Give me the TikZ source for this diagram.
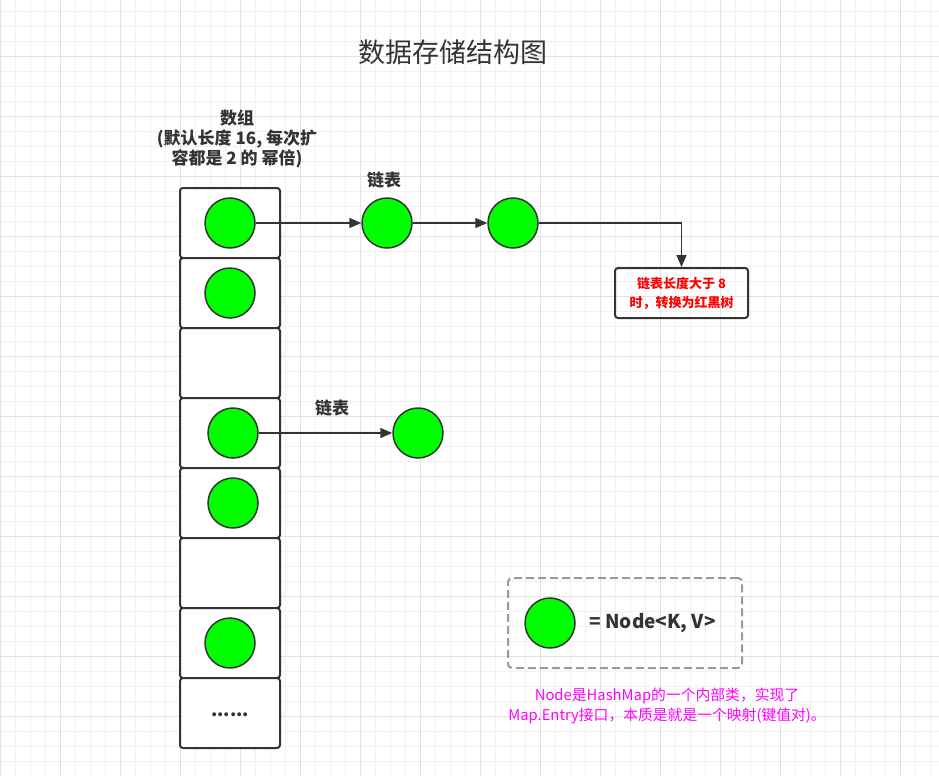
\documentclass[tikz,border=0pt]{standalone}
\usepackage{fontspec}
\setmainfont{Noto Sans CJK SC}
\usetikzlibrary{arrows.meta}
\definecolor{ink}{HTML}{333333}
\definecolor{nodegreen}{HTML}{00FF00}
\definecolor{gridlo}{HTML}{F1F1F1}
\definecolor{gridhi}{HTML}{E2E2E2}
\definecolor{dashgray}{HTML}{9A9A9A}
\definecolor{notepink}{HTML}{FF00FF}
\tikzset{
  cell/.style={rectangle,rounded corners=3pt,draw=ink,fill=white,line width=2pt,minimum width=100pt,minimum height=70pt,inner sep=0pt},
  nd/.style={circle,draw=ink,fill=nodegreen,minimum size=50pt,inner sep=0pt,line width=1.5pt},
  lnk/.style={-{Triangle[length=12pt,width=10pt]},draw=ink,line width=1.5pt},
  lb/.style={font=\fontsize{17}{20}\selectfont\bfseries,text=ink,align=center},
  warn/.style={rectangle,rounded corners=3pt,draw=ink,line width=2pt,minimum width=133pt,minimum height=50pt,inner sep=0pt,align=center,text=red,font=\fontsize{13}{19}\selectfont\bfseries},
  keybox/.style={rectangle,rounded corners=4pt,draw=dashgray,line width=2pt,dash pattern=on 8pt off 4pt,minimum width=234pt,minimum height=90pt,inner sep=0pt},
  gmin/.style={draw=gridlo,line width=1pt},
  gmaj/.style={draw=gridhi,line width=1pt},
}
\begin{document}
\begin{tikzpicture}[x=1pt,y=-1pt]
\useasboundingbox (0,0) rectangle (939,776);
\fill[white] (0,0) rectangle (939,776);
% background grid
\foreach \x in {0,15,...,930} \draw[gmin] (\x,0) -- (\x,776);
\foreach \y in {11.5,26.5,...,776} \draw[gmin] (0,\y) -- (939,\y);
\foreach \x in {0,60,...,930} \draw[gmaj] (\x,0) -- (\x,776);
\foreach \y in {56.5,116.5,...,776} \draw[gmaj] (0,\y) -- (939,\y);

\node[font=\fontsize{27}{30}\selectfont,text=ink] (title) at (453,52) {数据存储结构图};

% the array
\node[lb] (arrlb) at (237,139) {数组\\(默认长度 16, 每次扩\\容都是 2 的 幂倍)};
\foreach \i in {1,...,8}
  \node[cell] (cell\i) at (230,{223+70*(\i-1)}) {};
\node[nd] (a1) at (230,223) {};
\node[nd] (a2) at (230,293) {};
\node[nd] (a4) at (233,433) {};
\node[nd] (a5) at (233,503) {};
\node[nd] (a7) at (230,643) {};
\node[lb,font=\fontsize{18}{20}\selectfont\bfseries] (more) at (230,715) {......};

% first bucket list
\node[lb] (listlb) at (384,180) {链表};
\node[nd] (l1) at (387,223) {};
\node[nd] (l2) at (513,223) {};
\node[warn] (tree) at (681.5,293) {链表长度大于 8\\时，转换为红黑树};
\draw[lnk] (a1) -- (l1);
\draw[lnk] (l1) -- (l2);
\draw[lnk] (l2) -| (tree);

% second bucket list
\node[lb] (listlb2) at (332,408) {链表};
\node[nd] (m1) at (418,433) {};
\draw[lnk] (a4) -- (m1);

% legend
\node[keybox] (key) at (625,623) {};
\node[nd] (keynd) at (550,623) {};
\node[lb,anchor=west,font=\fontsize{19}{20}\selectfont\bfseries] (keytx) at (586,623) {= Node<K, V>};
\node[text=notepink,align=center,font=\fontsize{14.8}{20}\selectfont] (note) at (667,706)
  {Node是HashMap的一个内部类，实现了\\Map.Entry接口，本质是就是一个映射(键值对)。};
\end{tikzpicture}
\end{document}
